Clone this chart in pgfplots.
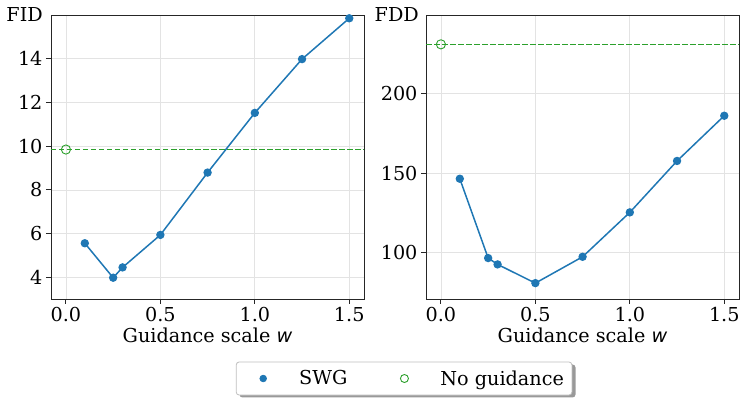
\documentclass[border=0pt]{standalone}
\usepackage{pgfplots}
\pgfplotsset{compat=1.18}
\usepackage{fontspec}
\setmainfont{DejaVu Serif}
\newfontfamily\dvsans{DejaVu Sans}

\definecolor{swgblue}{HTML}{1F77B4}
\definecolor{noggreen}{HTML}{2CA02C}

\newcommand{\fs}{\fontsize{19.2}{22}\selectfont}

\pgfplotsset{
  every axis/.append style={
    scale only axis,
    width=313pt, height=284pt,
    anchor=south west,
    xmin=-0.079, xmax=1.578,
    xtick={0,0.5,1,1.5},
    xticklabel style={/pgf/number format/.cd,fixed,fixed zerofill,precision=1},
    /pgf/number format/assume math mode=true,
    tick label style={font=\fs},
    label style={font=\fs},
    tick align=outside,
    major tick length=5pt,
    xtick pos=bottom, ytick pos=left,
    grid=major,
    grid style={gray!22, line width=0.8pt},
    axis line style={black!85, line width=0.9pt},
    every tick/.append style={black!85, line width=0.9pt},
    xlabel={Guidance scale {\dvsans\itshape w}},
    xlabel style={yshift=1pt},
    clip=false,
  },
}
\tikzset{nogline/.style={draw=noggreen, line width=1.5pt, dash pattern=on 5.5pt off 2.5pt}}

\begin{document}
\begin{tikzpicture}
\useasboundingbox (-51pt,-104pt) rectangle (697pt,299pt);

% left: FID
\begin{axis}[
  at={(0pt,0pt)},
  ymin=3.03, ymax=15.97,
  ytick={4,6,8,10,12,14},
]
\addplot[nogline] coordinates {(-0.079,9.84) (1.578,9.84)};
\addplot[swgblue, line width=1.5pt, mark=*, mark size=3.4pt] coordinates {
  (0.1,5.57) (0.25,4.00) (0.3,4.47) (0.5,5.95) (0.75,8.79) (1.0,11.51) (1.25,13.96) (1.5,15.82)
};
\addplot[noggreen, only marks, mark=o, mark size=4.6pt, mark options={line width=0.9pt, solid}] coordinates {(0,9.84)};
\node[font=\fs, anchor=east, inner sep=0pt] at (rel axis cs:0,1) [xshift=-8pt] {FID};
\end{axis}

% right: FDD
\begin{axis}[
  at={(375pt,0pt)},
  ymin=70.6, ymax=249.6,
  ytick={100,150,200},
]
\addplot[nogline] coordinates {(-0.079,231.1) (1.578,231.1)};
\addplot[swgblue, line width=1.5pt, mark=*, mark size=3.4pt] coordinates {
  (0.1,146.4) (0.25,96.4) (0.3,92.4) (0.5,80.6) (0.75,97.2) (1.0,125.2) (1.25,157.6) (1.5,186.1)
};
\addplot[noggreen, only marks, mark=o, mark size=4.6pt, mark options={line width=0.9pt, solid}] coordinates {(0,231.1)};
\node[font=\fs, anchor=east, inner sep=0pt] at (rel axis cs:0,1) [xshift=-7pt] {FDD};
\end{axis}

% legend shadow
\fill[black!40, rounded corners=3pt] (188.5pt,-98.5pt) rectangle (524.5pt,-65.5pt);

% shared legend
\begin{axis}[
  at={(0pt,0pt)},
  hide axis,
  xmin=0, xmax=1, ymin=0, ymax=1,
  legend columns=2,
  legend style={
    at={(1.128,-0.28)}, anchor=center,
    font=\fs,
    draw=black!25, fill=white, line width=0.8pt,
    rounded corners=3pt,
    inner xsep=6pt, inner ysep=6.5pt,
    nodes={inner sep=2pt},
    /tikz/every even column/.append style={column sep=34pt},
  },
  legend image code/.code={%
    \pgfpathrectangle{\pgfpoint{0pt}{-1pt}}{\pgfpoint{55pt}{2pt}}%
    \pgfusepath{use as bounding box}%
    \draw[#1, only marks] plot coordinates {(21pt,0pt)};
  },
  legend cell align=left,
]
\addlegendimage{only marks, color=swgblue, mark=*, mark size=3.3pt}
\addlegendentry{SWG}
\addlegendimage{only marks, color=noggreen, mark=o, mark size=4pt, mark options={line width=0.9pt}}
\addlegendentry{No guidance}
\end{axis}
\end{tikzpicture}
\end{document}
